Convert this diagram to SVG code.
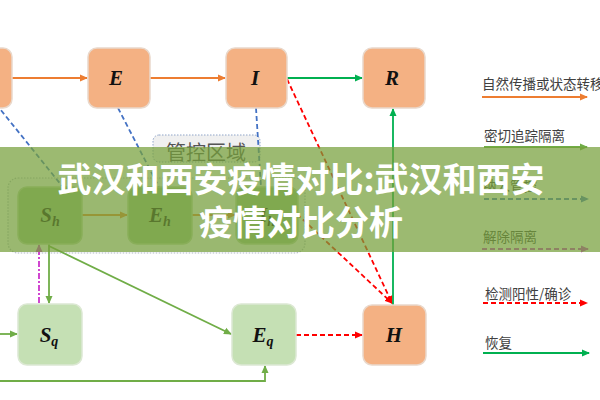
<svg xmlns="http://www.w3.org/2000/svg" width="600" height="400" viewBox="0 0 600 400">
<style>
.o{fill:#F4B183;stroke:#E9D8CB;stroke-width:1.5}
.g{fill:#C5E0B4;stroke:#DCE8D3;stroke-width:1.5}
.gh{fill:#9CC086;stroke:#B9D3A8;stroke-width:1.5}
.lbl{font-family:"Liberation Serif","Times New Roman",serif;font-weight:bold;font-style:italic;font-size:21px;fill:#111;text-anchor:middle}
.sub{font-size:14px}
.lg{font-family:"Noto Sans CJK SC","Noto Sans",sans-serif;font-size:13.5px;fill:#404040}
.ln{fill:none;stroke-width:1.8}
</style>
<defs>
<marker id="mo" markerWidth="8" markerHeight="8" refX="7" refY="4" orient="auto" markerUnits="userSpaceOnUse"><path d="M0,0.5 L8,4 L0,7.5 Z" fill="#ED7D31"/></marker>
<marker id="mg" markerWidth="8" markerHeight="8" refX="7" refY="4" orient="auto" markerUnits="userSpaceOnUse"><path d="M0,0.5 L8,4 L0,7.5 Z" fill="#70AD47"/></marker>
<marker id="mG" markerWidth="8" markerHeight="8" refX="7" refY="4" orient="auto" markerUnits="userSpaceOnUse"><path d="M0,0.5 L8,4 L0,7.5 Z" fill="#00B050"/></marker>
<marker id="mr" markerWidth="8" markerHeight="8" refX="7" refY="4" orient="auto" markerUnits="userSpaceOnUse"><path d="M0,0.5 L8,4 L0,7.5 Z" fill="#FF0000"/></marker>
<marker id="mb" markerWidth="8" markerHeight="8" refX="7" refY="4" orient="auto" markerUnits="userSpaceOnUse"><path d="M0,0.5 L8,4 L0,7.5 Z" fill="#4472C4"/></marker>
<marker id="mm" markerWidth="8" markerHeight="8" refX="7" refY="4" orient="auto" markerUnits="userSpaceOnUse"><path d="M0,0.5 L8,4 L0,7.5 Z" fill="#CC33CC"/></marker>
</defs>
<rect width="600" height="400" fill="#ffffff"/>

<g id="control-zone">
<rect x="8" y="178" width="297" height="75" rx="10" fill="#F7F8FA" stroke="#B0B8C4" stroke-width="1.2" stroke-dasharray="1.5,1.5"/>
</g>
<g id="control-label">
<rect x="153" y="135" width="107" height="27" rx="6" fill="#F0F0F0" stroke="#8FA4C8" stroke-width="1" stroke-dasharray="1.5,1.5"/>
<text x="206" y="160" font-family="Noto Sans CJK SC,sans-serif" font-size="20" fill="#555" text-anchor="middle">管控区域</text>
</g>

<g id="connectors">
<line class="ln" x1="12" y1="78" x2="87" y2="78" stroke="#ED7D31" marker-end="url(#mo)"/>
<line class="ln" x1="150" y1="78" x2="225" y2="78" stroke="#ED7D31" marker-end="url(#mo)"/>
<line class="ln" x1="287" y1="78" x2="362" y2="78" stroke="#00B050" marker-end="url(#mG)"/>
<line class="ln" x1="82" y1="215" x2="127" y2="215" stroke="#ED7D31" marker-end="url(#mo)"/>
<line class="ln" x1="192" y1="215" x2="235" y2="215" stroke="#ED7D31" marker-end="url(#mo)"/>
<line class="ln" x1="-4" y1="104" x2="62" y2="186" stroke="#4472C4" stroke-dasharray="5,3"/>
<line class="ln" x1="118" y1="108" x2="159" y2="187" stroke="#4472C4" stroke-dasharray="5,3"/>
<line class="ln" x1="256" y1="108" x2="261" y2="187" stroke="#4472C4" stroke-dasharray="5,3"/>
<line class="ln" x1="287" y1="79" x2="392" y2="303" stroke="#FF0000" stroke-dasharray="5,3" marker-end="url(#mr)"/>
<line class="ln" x1="297" y1="214" x2="392" y2="303" stroke="#FF0000" stroke-dasharray="5,3" marker-end="url(#mr)"/>
<line class="ln" x1="393" y1="305" x2="393" y2="109" stroke="#00B050" marker-end="url(#mG)"/>
<line class="ln" x1="49" y1="244" x2="49" y2="303" stroke="#70AD47" marker-end="url(#mg)"/>
<line class="ln" x1="39" y1="303" x2="39" y2="245" stroke="#CC33CC" stroke-dasharray="6,2,2,2" marker-end="url(#mm)"/>
<line class="ln" x1="49" y1="246" x2="231" y2="334" stroke="#70AD47" marker-end="url(#mg)"/>
<line class="ln" x1="0" y1="334" x2="17" y2="334" stroke="#70AD47" marker-end="url(#mg)"/>
<polyline class="ln" points="0,381 265,381 265,366" stroke="#70AD47" marker-end="url(#mg)"/>
<line class="ln" x1="296" y1="335" x2="362" y2="335" stroke="#FF0000" stroke-dasharray="5,3" marker-end="url(#mr)"/>
</g>

<g id="node-S"><rect class="o" x="-50" y="48" width="62" height="60" rx="9"/></g>
<g id="node-E"><rect class="o" x="88" y="48" width="62" height="60" rx="9"/><text class="lbl" x="116" y="85">E</text></g>
<g id="node-I"><rect class="o" x="226" y="48" width="61" height="60" rx="9"/><text class="lbl" x="255" y="85">I</text></g>
<g id="node-R"><rect class="o" x="363" y="48" width="62" height="60" rx="9"/><text class="lbl" x="392" y="85">R</text></g>
<g id="node-Sh"><rect class="gh" x="18" y="187" width="64" height="57" rx="9"/><text class="lbl" x="50" y="222">S<tspan class="sub" dy="4">h</tspan></text></g>
<g id="node-Eh"><rect class="gh" x="128" y="187" width="64" height="57" rx="9"/><text class="lbl" x="160" y="222">E<tspan class="sub" dy="4">h</tspan></text></g>
<g id="node-Ih"><rect class="gh" x="236" y="187" width="62" height="57" rx="9"/><text class="lbl" x="267" y="222">I<tspan class="sub" dy="4">h</tspan></text></g>
<g id="node-Sq"><rect class="g" x="18" y="304" width="64" height="61" rx="9"/><text class="lbl" x="49" y="342">S<tspan class="sub" dy="4">q</tspan></text></g>
<g id="node-Eq"><rect class="g" x="232" y="304" width="64" height="61" rx="9"/><text class="lbl" x="263" y="342">E<tspan class="sub" dy="4">q</tspan></text></g>
<g id="node-H"><rect class="o" x="363" y="305" width="63" height="60" rx="9"/><text class="lbl" x="394" y="342">H</text></g>

<g id="legend">
<text class="lg" x="482" y="89">自然传播或状态转移</text>
<line class="ln" x1="482" y1="97" x2="587" y2="97" stroke="#ED7D31" marker-end="url(#mo)"/>
<text class="lg" x="484" y="141">密切追踪隔离</text>
<line class="ln" x1="484" y1="147" x2="587" y2="147" stroke="#70AD47" marker-end="url(#mg)"/>
<text class="lg" x="483" y="191">纳入管控</text>
<line class="ln" x1="484" y1="199" x2="588" y2="199" stroke="#4472C4" stroke-dasharray="5,3" marker-end="url(#mb)"/>
<text class="lg" x="483" y="242">解除隔离</text>
<line class="ln" x1="482" y1="249" x2="588" y2="249" stroke="#CC33CC" stroke-dasharray="5,3" marker-end="url(#mm)"/>
<text class="lg" x="485" y="299">检测阳性/确诊</text>
<line class="ln" x1="483" y1="303" x2="587" y2="303" stroke="#FF0000" stroke-dasharray="5,3" marker-end="url(#mr)"/>
<text class="lg" x="485" y="348">恢复</text>
<line class="ln" x1="483" y1="353" x2="589" y2="353" stroke="#00B050" marker-end="url(#mG)"/>
</g>

<g id="title-overlay">
<rect x="0" y="147" width="600" height="105" fill="#76A03A" fill-opacity="0.72"/>
<text x="301" y="192" font-family="Noto Sans CJK SC,sans-serif" font-weight="bold" font-size="34" fill="#ffffff" text-anchor="middle">武汉和西安疫情对比:武汉和西安</text>
<text x="301" y="235" font-family="Noto Sans CJK SC,sans-serif" font-weight="bold" font-size="34" fill="#ffffff" text-anchor="middle">疫情对比分析</text>
</g>
</svg>
